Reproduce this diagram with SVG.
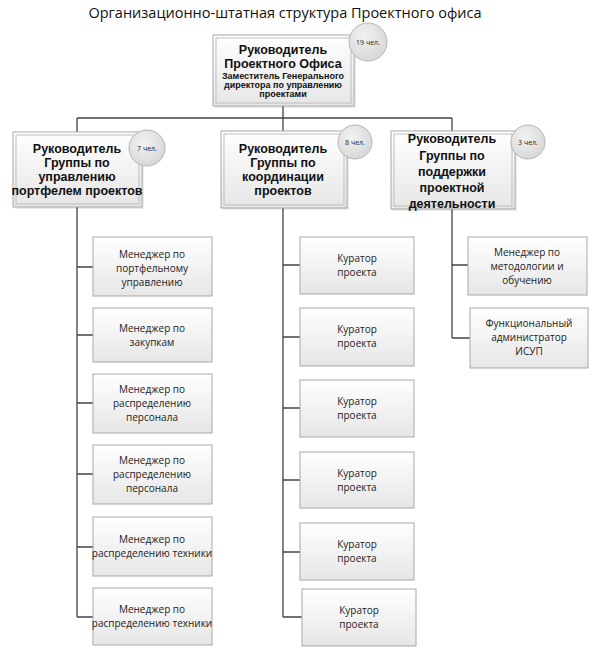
<svg xmlns="http://www.w3.org/2000/svg" width="606" height="664" viewBox="0 0 606 664">
<defs>
<linearGradient id="g" x1="0" y1="0" x2="0" y2="1"><stop offset="0" stop-color="#ffffff"/><stop offset="1" stop-color="#e6e6e6"/></linearGradient>
<radialGradient id="c" cx="0.4" cy="0.35" r="0.7"><stop offset="0" stop-color="#f2f2f2"/><stop offset="1" stop-color="#d6d6d6"/></radialGradient>
</defs>
<style>
.box{fill:url(#g);stroke:#a8a8a8;stroke-width:1}
.in{fill:none;stroke:#bdbdbd;stroke-width:1}
.sh{fill:#000;opacity:0.08}
.circ{fill:url(#c);stroke:#b5b5b5;stroke-width:1}
.h{font-family:"Liberation Sans",Arial,sans-serif;font-weight:bold;font-size:12.5px;fill:#111;text-anchor:middle}
.s{font-family:"Liberation Sans",Arial,sans-serif;font-weight:bold;font-size:9px;fill:#111;text-anchor:middle}
.t{font-family:"Open Sans",sans-serif;font-size:10px;fill:#222;text-anchor:middle}
.n{font-family:"Open Sans",sans-serif;font-size:7px;fill:#222;text-anchor:middle}
.ln{stroke:#444;stroke-width:1.3;fill:none}
</style>
<text x="285" y="18" font-family="Open Sans,sans-serif" font-size="14.5" fill="#111" text-anchor="middle">Организационно-штатная структура Проектного офиса</text>
<g id="connectors">
<path class="ln" d="M283 106V118M77 118H452M77 118V132M283 118V131M452 118V131"/>
<path class="ln" d="M77 207V617M77 267H93M77 335H93M77 403H93M77 474H93M77 547H93M77 617H93"/>
<path class="ln" d="M283 208V617M283 265H300M283 337H300M283 408H300M283 480H300M283 552H300M283 617H302"/>
<path class="ln" d="M452 209V338M452 265H468M452 338H470"/>
</g>
<g id="head">
<rect class="sh" x="215" y="37" width="141" height="71"/>
<rect class="box" x="213" y="35" width="141" height="71"/><rect class="in" x="216" y="38" width="135" height="65"/>
<text class="h" x="283" y="54">Руководитель</text><text class="h" x="283" y="68">Проектного Офиса</text>
<text class="s" x="283" y="79">Заместитель Генерального</text><text class="s" x="283" y="88">директора по управлению</text><text class="s" x="283" y="97">проектами</text>
<circle class="circ" cx="368" cy="42" r="19"/><text class="n" x="368" y="45">19 чел.</text>
</g>
<g id="g1">
<rect class="sh" x="15" y="134" width="129" height="75"/>
<rect class="box" x="13" y="132" width="129" height="75"/><rect class="in" x="16" y="135" width="123" height="69"/>
<text class="h" x="77" y="153">Руководитель</text><text class="h" x="77" y="167">Группы по</text><text class="h" x="77" y="181">управлению</text><text class="h" x="77" y="195">портфелем проектов</text>
<circle class="circ" cx="147" cy="148" r="18"/><text class="n" x="147" y="151">7 чел.</text>
</g>
<g id="g2">
<rect class="sh" x="223" y="133" width="126" height="77"/>
<rect class="box" x="221" y="131" width="126" height="77"/><rect class="in" x="224" y="134" width="120" height="71"/>
<text class="h" x="283" y="153">Руководитель</text><text class="h" x="283" y="167">Группы по</text><text class="h" x="283" y="181">координации</text><text class="h" x="283" y="195">проектов</text>
<circle class="circ" cx="355" cy="142" r="17"/><text class="n" x="355" y="145">8 чел.</text>
</g>
<g id="g3">
<rect class="sh" x="393" y="133" width="124" height="78"/>
<rect class="box" x="391" y="131" width="124" height="78"/><rect class="in" x="394" y="134" width="118" height="72"/>
<text class="h" x="452" y="143">Руководитель</text><text class="h" x="452" y="160">Группы по</text><text class="h" x="452" y="176">поддержки</text><text class="h" x="452" y="192">проектной</text><text class="h" x="452" y="208">деятельности</text>
<circle class="circ" cx="528" cy="142" r="17"/><text class="n" x="528" y="145">3 чел.</text>
</g>
<g id="l1"><rect class="box" x="93" y="237" width="119" height="59"/><text class="t" x="152" y="258">Менеджер по</text><text class="t" x="152" y="272">портфельному</text><text class="t" x="152" y="286">управлению</text></g>
<g id="l2"><rect class="box" x="93" y="308" width="119" height="54"/><text class="t" x="152" y="332">Менеджер по</text><text class="t" x="152" y="346">закупкам</text></g>
<g id="l3"><rect class="box" x="93" y="374" width="119" height="59"/><text class="t" x="152" y="393">Менеджер по</text><text class="t" x="152" y="407">распределению</text><text class="t" x="152" y="421">персонала</text></g>
<g id="l4"><rect class="box" x="93" y="445" width="119" height="59"/><text class="t" x="152" y="464">Менеджер по</text><text class="t" x="152" y="478">распределению</text><text class="t" x="152" y="492">персонала</text></g>
<g id="l5"><rect class="box" x="93" y="517" width="119" height="59"/><text class="t" x="152" y="543">Менеджер по</text><text class="t" x="152" y="557">распределению техники</text></g>
<g id="l6"><rect class="box" x="93" y="588" width="119" height="57"/><text class="t" x="152" y="613">Менеджер по</text><text class="t" x="152" y="627">распределению техники</text></g>
<g id="k1"><rect class="box" x="300" y="237" width="114" height="57"/><text class="t" x="357" y="262">Куратор</text><text class="t" x="357" y="276">проекта</text></g>
<g id="k2"><rect class="box" x="300" y="308" width="114" height="58"/><text class="t" x="357" y="333">Куратор</text><text class="t" x="357" y="347">проекта</text></g>
<g id="k3"><rect class="box" x="300" y="380" width="114" height="57"/><text class="t" x="357" y="405">Куратор</text><text class="t" x="357" y="419">проекта</text></g>
<g id="k4"><rect class="box" x="300" y="452" width="114" height="56"/><text class="t" x="357" y="477">Куратор</text><text class="t" x="357" y="491">проекта</text></g>
<g id="k5"><rect class="box" x="300" y="523" width="114" height="57"/><text class="t" x="357" y="548">Куратор</text><text class="t" x="357" y="562">проекта</text></g>
<g id="k6"><rect class="box" x="302" y="589" width="114" height="57"/><text class="t" x="359" y="614">Куратор</text><text class="t" x="359" y="628">проекта</text></g>
<g id="r1"><rect class="box" x="468" y="237" width="119" height="58"/><text class="t" x="527" y="256">Менеджер по</text><text class="t" x="527" y="270">методологии и</text><text class="t" x="527" y="284">обучению</text></g>
<g id="r2"><rect class="box" x="470" y="308" width="118" height="60"/><text class="t" x="529" y="327">Функциональный</text><text class="t" x="529" y="341">администратор</text><text class="t" x="529" y="355">ИСУП</text></g>
</svg>
